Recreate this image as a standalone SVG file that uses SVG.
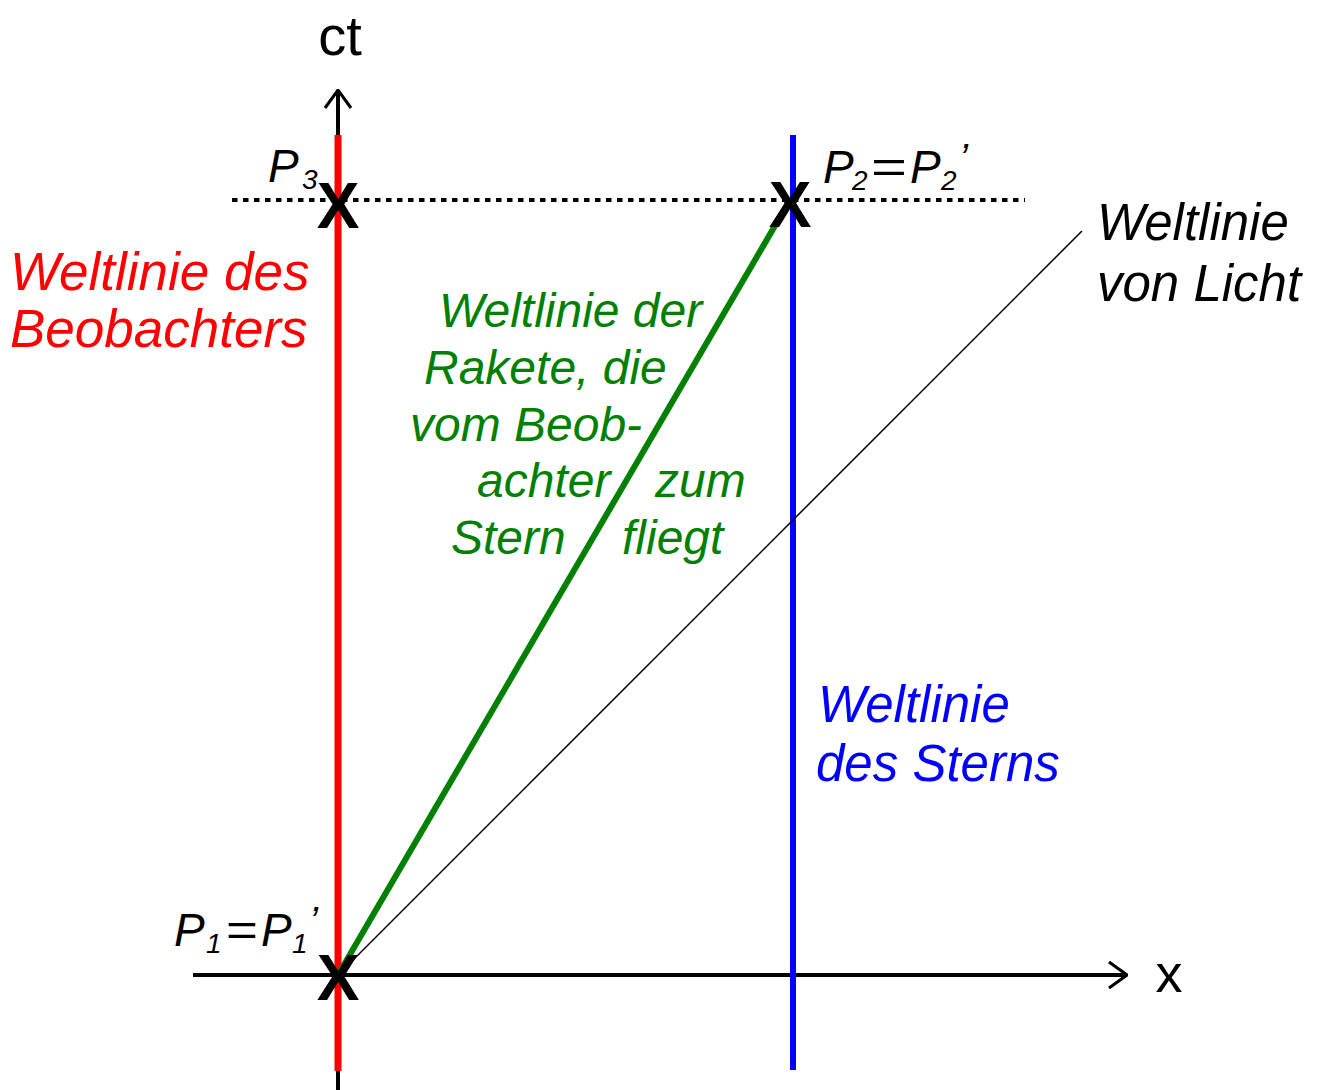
<svg xmlns="http://www.w3.org/2000/svg" width="1326" height="1090" viewBox="0 0 1326 1090">
<style>
text{font-family:"Liberation Sans",Arial,sans-serif}
.it{font-style:italic}
.lab{font-size:51px}
.grn{font-size:48px;fill:#008000}
.mk{font-size:64px;font-weight:bold;text-anchor:middle;fill:#000}
.p{font-size:46px;font-style:italic}
.s{font-size:28px;font-style:italic}
.pr{font-size:40px;font-style:italic}
</style>
<defs>
<marker id="arr" viewBox="0 0 20 30" refX="19" refY="15" markerWidth="20" markerHeight="30" markerUnits="userSpaceOnUse" orient="auto">
<path d="M1,2 L19,15 L1,28" fill="none" stroke="#000" stroke-width="3"/>
</marker>
</defs>
<rect width="1326" height="1090" fill="#fff"/>
<g id="connectors">
<line id="x-axis" x1="193" y1="975" x2="1127" y2="975" stroke="#000" stroke-width="4" marker-end="url(#arr)"/>
<line id="ct-axis" x1="338" y1="1090" x2="338" y2="90" stroke="#000" stroke-width="4" marker-end="url(#arr)"/>
<line id="observer" x1="338" y1="1071" x2="338" y2="135" stroke="#ff0000" stroke-width="7"/>
<line id="star" x1="793" y1="1070" x2="793" y2="135" stroke="#0000ff" stroke-width="6"/>
<line id="simultaneity" x1="232" y1="200" x2="1025" y2="200" stroke="#000" stroke-width="4" stroke-dasharray="5.5 5.5"/>
<line id="light" x1="338" y1="975" x2="1082" y2="231" stroke="#000" stroke-width="1.5"/>
<line id="rocket" x1="338" y1="975" x2="790" y2="200" stroke="#008000" stroke-width="6"/>
</g>
<g id="axis-ct"><text x="340" y="55" font-size="56" text-anchor="middle">ct</text></g>
<g id="axis-x"><text x="1169" y="992" font-size="54" text-anchor="middle">x</text></g>
<g id="P3">
<text x="338" y="228" class="mk">X</text>
<text x="268" y="182" class="p">P</text><text x="302" y="189" class="s">3</text>
</g>
<g id="P2">
<text x="790" y="227" class="mk">X</text>
<text x="823" y="183" class="p">P</text><text x="852" y="190" class="s">2</text>
<text x="871" y="183" class="p" textLength="36" lengthAdjust="spacingAndGlyphs" style="font-style:normal">=</text>
<text x="910" y="183" class="p">P</text><text x="941" y="190" class="s">2</text>
<text x="959" y="172" class="pr">’</text>
</g>
<g id="P1">
<text x="338" y="1000" class="mk">X</text>
<text x="174" y="946" class="p">P</text><text x="206" y="953" class="s">1</text>
<text x="226" y="946" class="p" textLength="32" lengthAdjust="spacingAndGlyphs" style="font-style:normal">=</text>
<text x="261" y="946" class="p">P</text><text x="292" y="953" class="s">1</text>
<text x="309" y="935" class="pr">’</text>
</g>
<g id="label-observer">
<text class="it lab" fill="#ff0000" style="font-size:53px"><tspan x="10" y="290">Weltlinie des</tspan><tspan x="10" y="347">Beobachters</tspan></text>
</g>
<g id="label-light">
<text class="it lab" fill="#000"><tspan x="1097" y="240">Weltlinie</tspan><tspan x="1097" y="301">von Licht</tspan></text>
</g>
<g id="label-star">
<text class="it lab" fill="#0000ff"><tspan x="818" y="722">Weltlinie</tspan><tspan x="816" y="781">des Sterns</tspan></text>
</g>
<g id="label-rocket">
<text class="it grn"><tspan x="439" y="327">Weltlinie der</tspan><tspan x="424" y="384">Rakete, die</tspan><tspan x="410" y="441">vom Beob-</tspan><tspan x="477" y="497">achter</tspan><tspan x="655" y="497">zum</tspan><tspan x="451" y="554">Stern</tspan><tspan x="622" y="554">fliegt</tspan></text>
</g>
</svg>
